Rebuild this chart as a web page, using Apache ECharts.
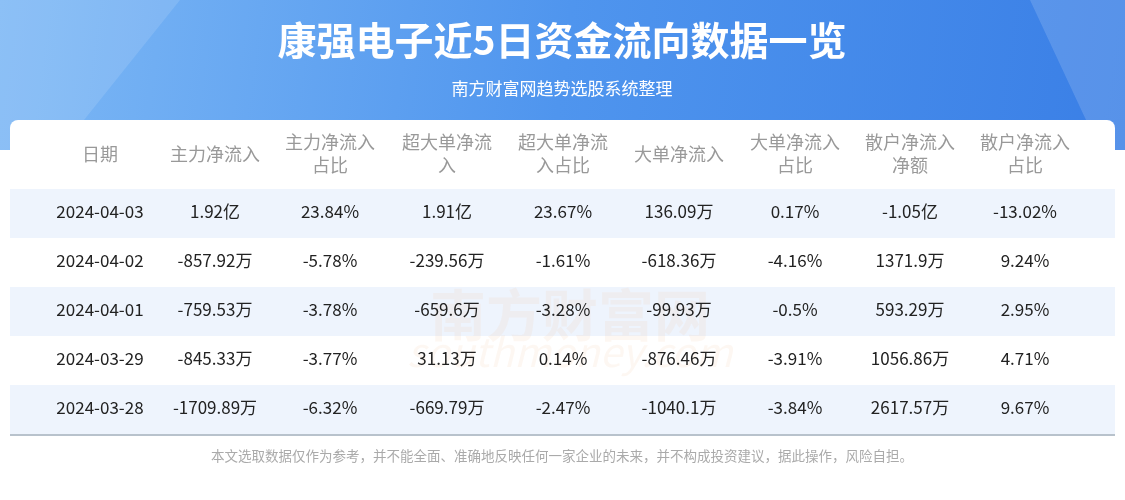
<!DOCTYPE html>
<html><head><meta charset="utf-8">
<script src="https://cdn.jsdelivr.net/npm/echarts@6/dist/echarts.min.js"></script>
<style>html,body{margin:0;padding:0;background:#fff}#c{width:1125px;height:500px}</style>
</head><body><div id="c"></div>
<script>
const title = '康强电子近5日资金流向数据一览';
const subtitle = '南方财富网趋势选股系统整理';
const headers = ['日期','主力净流入','主力净流入\n占比','超大单净流\n入','超大单净流\n入占比','大单净流入','大单净流入\n占比','散户净流入\n净额','散户净流入\n占比'];
const dates = ['2024-04-03','2024-04-02','2024-04-01','2024-03-29','2024-03-28'];
const mainIn = ['1.92亿','-857.92万','-759.53万','-845.33万','-1709.89万'];
const mainPct = ['23.84%','-5.78%','-3.78%','-3.77%','-6.32%'];
const superIn = ['1.91亿','-239.56万','-659.6万','31.13万','-669.79万'];
const superPct = ['23.67%','-1.61%','-3.28%','0.14%','-2.47%'];
const bigIn = ['136.09万','-618.36万','-99.93万','-876.46万','-1040.1万'];
const bigPct = ['0.17%','-4.16%','-0.5%','-3.91%','-3.84%'];
const retailIn = ['-1.05亿','1371.9万','593.29万','1056.86万','2617.57万'];
const retailPct = ['-13.02%','9.24%','2.95%','4.71%','9.67%'];
const footer = '本文选取数据仅作为参考，并不能全面、准确地反映任何一家企业的未来，并不构成投资建议，据此操作，风险自担。';

const cols = [dates, mainIn, mainPct, superIn, superPct, bigIn, bigPct, retailIn, retailPct];
const colX = [100,215,330,447,563,679,795,910,1025];
const rowY0 = 212, rowH = 49;
const F = '"Noto Sans CJK SC","Noto Sans",sans-serif';
const g = [];
g.push({type:'rect',shape:{x:0,y:0,width:1125,height:150},style:{fill:new echarts.graphic.LinearGradient(0,0,1,1,[{offset:0,color:'#7db8f5'},{offset:0.5,color:'#4f95ee'},{offset:1,color:'#3a7fe6'}])},z:0});
g.push({type:'polygon',shape:{points:[[0,0],[180,0],[60,150],[0,150]]},style:{fill:'rgba(255,255,255,0.12)'},z:1});
g.push({type:'polygon',shape:{points:[[1125,0],[1030,0],[1100,150],[1125,150]]},style:{fill:'rgba(255,255,255,0.15)'},z:1});
g.push({type:'rect',shape:{x:10,y:120,width:1105,height:316,r:[8,8,0,0]},style:{fill:'#fff'},z:2});
g.push({type:'text',x:562,y:40,style:{text:title,fill:'#fff',font:'bold 39px '+F,align:'center',verticalAlign:'middle'},z:5});
g.push({type:'text',x:562,y:89,style:{text:subtitle,fill:'#fff',font:'17px '+F,align:'center',verticalAlign:'middle'},z:5});
headers.forEach((h,i)=>g.push({type:'text',x:colX[i],y:154,style:{text:h,fill:'#999',font:'18px '+F,align:'center',verticalAlign:'middle',lineHeight:23},z:5}));
dates.forEach((d,r)=>{
  const y=rowY0+r*rowH;
  if(r%2===0) g.push({type:'rect',shape:{x:10,y:y-23,width:1105,height:rowH},style:{fill:'#eef4fd'},z:3});
  cols.forEach((c,i)=>g.push({type:'text',x:colX[i],y:y,style:{text:c[r],fill:'#222',font:'17px '+F,align:'center',verticalAlign:'middle'},z:5}));
});
g.push({type:'rect',shape:{x:10,y:434,width:1105,height:2},style:{fill:'#b8c2cc'},z:4});
g.push({type:'text',x:562,y:456,style:{text:footer,fill:'#aaa',font:'13.5px '+F,align:'center',verticalAlign:'middle'},z:5});
g.push({type:'text',x:570,y:315,style:{text:'南方财富网',fill:'rgba(240,200,170,0.15)',font:'bold 56px '+F,align:'center',verticalAlign:'middle'},z:4});
g.push({type:'text',x:570,y:352,style:{text:'southmoney.com',fill:'rgba(240,200,170,0.15)',font:'italic 40px '+F,align:'center',verticalAlign:'middle'},z:4});
const chart = echarts.init(document.getElementById('c'));
chart.setOption({animation:false,graphic:{elements:g}});
</script></body></html>
